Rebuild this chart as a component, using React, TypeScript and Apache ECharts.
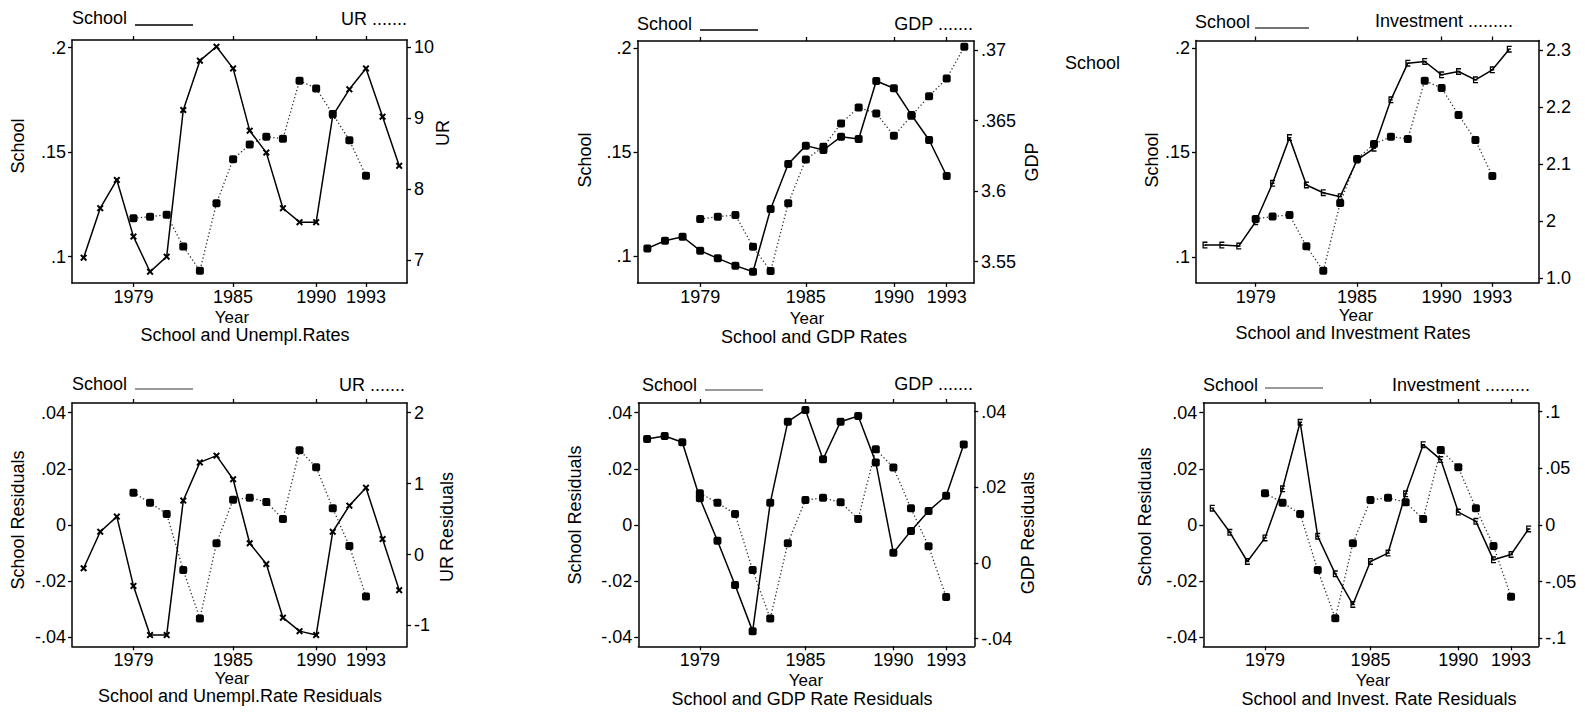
import React, { useEffect, useRef } from 'react';
import * as echarts from 'echarts';

const FONT = '"Liberation Sans", Arial, Helvetica, sans-serif';

// ---------- axis ticks ----------
const xTickYears = [1979, 1985, 1990, 1993];
const schoolTicks = [0.1, 0.15, 0.2];
const schoolTickLabels = ['.1', '.15', '.2'];
const urTicks = [7, 8, 9, 10];
const urTickLabels = ['7', '8', '9', '10'];
const gdpTicks = [3.55, 3.6, 3.65, 3.7];
const gdpTickLabels = ['3.55', '3.6', '.365', '.37'];
const investTicks = [1.9, 2, 2.1, 2.2, 2.3];
const investTickLabels = ['1.0', '2', '2.1', '2.2', '2.3'];
const residTicks = [-0.04, -0.02, 0, 0.02, 0.04];
const residTickLabels = ['-.04', '-.02', '0', '.02', '.04'];
const urResidTicks = [-1, 0, 1, 2];
const urResidTickLabels = ['-1', '0', '1', '2'];
const gdpResidTicks = [-0.02, 0, 0.02, 0.04];
const gdpResidTickLabels = ['-.04', '0', '.02', '.04'];
const investResidTicks = [-0.1, -0.05, 0, 0.05, 0.1];
const investResidTickLabels = ['-.1', '-.05', '0', '.05', '.1'];

// ---------- years ----------
const years76to95 = [1976, 1977, 1978, 1979, 1980, 1981, 1982, 1983, 1984, 1985, 1986, 1987, 1988, 1989, 1990, 1991, 1992, 1993, 1994, 1995];
const years76to94 = [1976, 1977, 1978, 1979, 1980, 1981, 1982, 1983, 1984, 1985, 1986, 1987, 1988, 1989, 1990, 1991, 1992, 1993, 1994];
const years76to93 = [1976, 1977, 1978, 1979, 1980, 1981, 1982, 1983, 1984, 1985, 1986, 1987, 1988, 1989, 1990, 1991, 1992, 1993];
const years79to93 = [1979, 1980, 1981, 1982, 1983, 1984, 1985, 1986, 1987, 1988, 1989, 1990, 1991, 1992, 1993];
const years79to94 = [1979, 1980, 1981, 1982, 1983, 1984, 1985, 1986, 1987, 1988, 1989, 1990, 1991, 1992, 1993, 1994];

// ---------- series values ----------
// School and Unempl.Rates
const urSchool = [0.0995, 0.1232, 0.1367, 0.1096, 0.0928, 0.1, 0.1702, 0.1938, 0.2005, 0.1901, 0.1603, 0.1498, 0.1232, 0.1165, 0.1165, 0.1675, 0.1801, 0.1901, 0.167, 0.1435];
const urRate = [7.59, 7.61, 7.64, 7.19, 6.85, 7.8, 8.42, 8.63, 8.74, 8.71, 9.53, 9.42, 9.06, 8.69, 8.19];
// School and GDP Rates
const gdpSchool = [0.1039, 0.1076, 0.1095, 0.1028, 0.0991, 0.0956, 0.0927, 0.1228, 0.1445, 0.1533, 0.1512, 0.1576, 0.1565, 0.1844, 0.1809, 0.168, 0.156, 0.1387];
const gdpRate = [3.5802, 3.5819, 3.5831, 3.5606, 3.5434, 3.5914, 3.6225, 3.6314, 3.648, 3.6593, 3.6551, 3.6392, 3.6534, 3.6673, 3.6799, 3.7023];
// School and Investment Rates
const invSchool = [0.1056, 0.1056, 0.1051, 0.1168, 0.1352, 0.1571, 0.1344, 0.1307, 0.1288, 0.1464, 0.152, 0.1752, 0.1928, 0.1936, 0.1872, 0.1888, 0.1848, 0.1896, 0.1995];
const invRate = [2.004, 2.008, 2.011, 1.956, 1.913, 2.032, 2.109, 2.135, 2.148, 2.144, 2.246, 2.233, 2.186, 2.142, 2.079];
// Residual panels
const urResSchool = [-0.0154, -0.0024, 0.003, -0.0217, -0.0392, -0.0392, 0.0087, 0.0223, 0.0247, 0.0163, -0.0065, -0.0139, -0.033, -0.0378, -0.0392, -0.0024, 0.0069, 0.0133, -0.005, -0.0232];
const urResRate = [0.87, 0.73, 0.57, -0.22, -0.9, 0.16, 0.77, 0.8, 0.74, 0.5, 1.47, 1.23, 0.65, 0.12, -0.59];
const gdpResSchool = [0.0306, 0.0317, 0.0295, 0.0095, -0.0056, -0.0214, -0.0378, 0.0079, 0.0368, 0.041, 0.0234, 0.0368, 0.0388, 0.0223, -0.0099, -0.0021, 0.005, 0.0104, 0.0287];
const gdpResRate = [0.0184, 0.0159, 0.0129, -0.0019, -0.0147, 0.0052, 0.0166, 0.0172, 0.016, 0.0116, 0.03, 0.0252, 0.0144, 0.0044, -0.009];
const invResSchool = [0.006, -0.0026, -0.013, -0.0046, 0.0129, 0.0366, -0.004, -0.0174, -0.0283, -0.013, -0.01, 0.0111, 0.0286, 0.0233, 0.0046, 0.0013, -0.0124, -0.0105, -0.0014];
const invResRate = [0.028, 0.0197, 0.0097, -0.0397, -0.0824, -0.0162, 0.0221, 0.0241, 0.02, 0.0053, 0.0662, 0.0509, 0.0147, -0.0185, -0.0633];

const SYM_X = 'path://M0,2L2,0L5,3L8,0L10,2L7,5L10,8L8,10L5,7L2,10L0,8L3,5Z';
const SYM_E = 'path://M0,0H8V2H2V4H7V6H2V8H8V10H0Z';
const SYM_SQ = 'roundRect';

type Panel = {
  grid: { left: number; top: number; width: number; height: number };
  xMin: number; xMax: number;
  lMin: number; lMax: number; lTicks: number[]; lLabels: string[];
  rMin: number; rMax: number; rTicks: number[]; rLabels: string[];
  solidYears: number[]; solidVals: number[]; solidSym: string; solidSize: any;
  dotYears: number[]; dotVals: number[];
};

const fmt = (ticks: number[], labels: string[]) => (v: number) => {
  const i = ticks.findIndex((t) => Math.abs(t - v) < 1e-9);
  return i >= 0 ? labels[i] : '';
};

export default function App() {
  const ref = useRef<HTMLDivElement>(null);
  useEffect(() => {
    document.body.style.margin = '0';
    if (!ref.current) return;
    const chart = echarts.init(ref.current, undefined, { renderer: 'svg' });

    const panels: Panel[] = [
      {
        grid: { left: 72, top: 40, width: 335, height: 243 },
        xMin: 1975.3, xMax: 1995.47,
        lMin: 0.0874, lMax: 0.2037, lTicks: schoolTicks, lLabels: schoolTickLabels,
        rMin: 6.676, rMax: 10.103, rTicks: urTicks, rLabels: urTickLabels,
        solidYears: years76to95, solidVals: urSchool, solidSym: SYM_X, solidSize: 7,
        dotYears: years79to93, dotVals: urRate,
      },
      {
        grid: { left: 637.5, top: 41, width: 336.5, height: 242 },
        xMin: 1975.44, xMax: 1994.55,
        lMin: 0.08726, lMax: 0.2036, lTicks: schoolTicks, lLabels: schoolTickLabels,
        rMin: 3.5349, rMax: 3.7064, rTicks: gdpTicks, rLabels: gdpTickLabels,
        solidYears: years76to93, solidVals: gdpSchool, solidSym: SYM_SQ, solidSize: 8,
        dotYears: years79to94, dotVals: gdpRate,
      },
      {
        grid: { left: 1196, top: 40.5, width: 343, height: 242.3 },
        xMin: 1975.47, xMax: 1995.76,
        lMin: 0.08752, lMax: 0.20365, lTicks: schoolTicks, lLabels: schoolTickLabels,
        rMin: 1.8921, rMax: 2.3163, rTicks: investTicks, rLabels: investTickLabels,
        solidYears: years76to94, solidVals: invSchool, solidSym: SYM_E, solidSize: [5, 7],
        dotYears: years79to93, dotVals: invRate,
      },
      {
        grid: { left: 72, top: 403, width: 335, height: 243.3 },
        xMin: 1975.3, xMax: 1995.47,
        lMin: -0.0432, lMax: 0.04345, lTicks: residTicks, lLabels: residTickLabels,
        rMin: -1.293, rMax: 2.134, rTicks: urResidTicks, rLabels: urResidTickLabels,
        solidYears: years76to95, solidVals: urResSchool, solidSym: SYM_X, solidSize: 7,
        dotYears: years79to93, dotVals: urResRate,
      },
      {
        grid: { left: 638.3, top: 403, width: 336, height: 243.3 },
        xMin: 1975.5, xMax: 1994.6,
        lMin: -0.0432, lMax: 0.04345, lTicks: residTicks, lLabels: residTickLabels,
        rMin: -0.02206, rMax: 0.04225, rTicks: gdpResidTicks, rLabels: gdpResidTickLabels,
        solidYears: years76to94, solidVals: gdpResSchool, solidSym: SYM_SQ, solidSize: 8,
        dotYears: years79to93, dotVals: gdpResRate,
      },
      {
        grid: { left: 1203.3, top: 403, width: 335, height: 243.3 },
        xMin: 1975.49, xMax: 1994.55,
        lMin: -0.0432, lMax: 0.04345, lTicks: residTicks, lLabels: residTickLabels,
        rMin: -0.10706, rMax: 0.10768, rTicks: investResidTicks, rLabels: investResidTickLabels,
        solidYears: years76to94, solidVals: invResSchool, solidSym: SYM_E, solidSize: [5, 7],
        dotYears: years79to93, dotVals: invResRate,
      },
    ];

    const axisLineStyle = { color: '#000', width: 1.5 };
    const labelBase = { color: '#000', fontSize: 18, fontFamily: FONT };

    const grids: any[] = [];
    const xAxes: any[] = [];
    const yAxes: any[] = [];
    const series: any[] = [];

    panels.forEach((p, k) => {
      grids.push({ ...p.grid, containLabel: false, show: false });
      xAxes.push({
        type: 'value', gridIndex: k, position: 'bottom', min: p.xMin, max: p.xMax,
        axisLine: { show: true, onZero: false, lineStyle: axisLineStyle },
        axisTick: { show: true, length: 4, customValues: xTickYears, lineStyle: { color: '#000', width: 1.3 } },
        axisLabel: { ...labelBase, customValues: xTickYears, margin: 5, formatter: (v: number) => String(v) },
        splitLine: { show: false },
      });
      xAxes.push({
        type: 'value', gridIndex: k, position: 'top', min: p.xMin, max: p.xMax,
        axisLine: { show: true, onZero: false, lineStyle: axisLineStyle },
        axisTick: { show: true, length: 4, customValues: xTickYears, lineStyle: { color: '#000', width: 1.3 } },
        axisLabel: { show: false },
        splitLine: { show: false },
      });
      yAxes.push({
        type: 'value', gridIndex: k, position: 'left', min: p.lMin, max: p.lMax,
        axisLine: { show: true, onZero: false, lineStyle: axisLineStyle },
        axisTick: { show: true, length: 4, customValues: p.lTicks, lineStyle: { color: '#000', width: 1.3 } },
        axisLabel: { ...labelBase, customValues: p.lTicks, margin: 6, formatter: fmt(p.lTicks, p.lLabels) },
        splitLine: { show: false },
      });
      yAxes.push({
        type: 'value', gridIndex: k, position: 'right', min: p.rMin, max: p.rMax,
        axisLine: { show: true, onZero: false, lineStyle: axisLineStyle },
        axisTick: { show: true, length: 4, customValues: p.rTicks, lineStyle: { color: '#000', width: 1.3 } },
        axisLabel: { ...labelBase, customValues: p.rTicks, margin: 7, formatter: fmt(p.rTicks, p.rLabels) },
        splitLine: { show: false },
      });
      series.push({
        type: 'line', xAxisIndex: 2 * k, yAxisIndex: 2 * k,
        data: p.solidYears.map((y, i) => [y, p.solidVals[i]]),
        symbol: p.solidSym, symbolSize: p.solidSize, showSymbol: true,
        itemStyle: { color: '#000' },
        lineStyle: { color: '#000', width: 1.5, type: 'solid' },
        z: 3,
      });
      series.push({
        type: 'line', xAxisIndex: 2 * k, yAxisIndex: 2 * k + 1,
        data: p.dotYears.map((y, i) => [y, p.dotVals[i]]),
        symbol: SYM_SQ, symbolSize: 8, showSymbol: true,
        itemStyle: { color: '#000' },
        lineStyle: { color: '#333', width: 1.3, type: [1.3, 2.4] },
        z: 2,
      });
    });

    const txt = (text: string, x: number, y: number, align = 'left', rot = 0, size = 18) => ({
      type: 'text', x, y, rotation: rot, silent: true,
      style: {
        text, fill: '#000', fontSize: size, fontFamily: FONT,
        align, textAlign: align, verticalAlign: 'middle', textVerticalAlign: 'middle',
      },
    });
    const uline = (x1: number, x2: number, y: number, color: string) => ({
      type: 'line', silent: true,
      shape: { x1, y1: y, x2, y2: y },
      style: { stroke: color, lineWidth: 1.5 },
    });
    const R = Math.PI / 2;

    const graphics: any[] = [
      // legends
      txt('School', 72, 18), uline(135, 193, 25, '#000'), txt('UR .......', 407, 19, 'right'),
      txt('School', 637, 24), uline(700, 758, 30, '#000'), txt('GDP .......', 973, 24, 'right'),
      txt('School', 1195, 22), uline(1255, 1309, 28, '#444'), txt('Investment .........', 1375, 21),
      txt('School', 72, 384), uline(135, 193, 389, '#777'), txt('UR .......', 405, 385, 'right'),
      txt('School', 642, 385), uline(705, 763, 390, '#777'), txt('GDP .......', 973, 384, 'right'),
      txt('School', 1203, 385), uline(1265, 1323, 388, '#777'), txt('Investment .........', 1392, 385),
      // axis titles
      txt('School', 18, 146, 'center', R), txt('UR', 443, 133, 'center', R),
      txt('School', 585, 160, 'center', R), txt('GDP', 1032, 162, 'center', R),
      txt('School', 1152, 160, 'center', R), txt('School', 1065, 63),
      txt('School Residuals', 18, 520, 'center', R), txt('UR Residuals', 447, 527, 'center', R),
      txt('School Residuals', 575, 515, 'center', R), txt('GDP Residuals', 1028, 533, 'center', R),
      txt('School Residuals', 1145, 517, 'center', R),
      // x titles and panel titles
      txt('Year', 232, 317, 'center', 0, 17), txt('School and Unempl.Rates', 245, 335, 'center'),
      txt('Year', 807, 318, 'center', 0, 17), txt('School and GDP Rates', 814, 337, 'center'),
      txt('Year', 1356, 315, 'center', 0, 17), txt('School and Investment Rates', 1353, 333, 'center'),
      txt('Year', 232, 678, 'center', 0, 17), txt('School and Unempl.Rate Residuals', 240, 696, 'center'),
      txt('Year', 806, 680, 'center', 0, 17), txt('School and GDP Rate Residuals', 802, 699, 'center'),
      txt('Year', 1373, 680, 'center', 0, 17), txt('School and Invest. Rate Residuals', 1379, 699, 'center'),
    ];

    chart.setOption({
      animation: false,
      backgroundColor: '#fff',
      grid: grids,
      xAxis: xAxes,
      yAxis: yAxes,
      series,
      graphic: { elements: graphics },
    });
    return () => chart.dispose();
  }, []);
  return <div ref={ref} style={{ width: 1585, height: 713 }} />;
}
